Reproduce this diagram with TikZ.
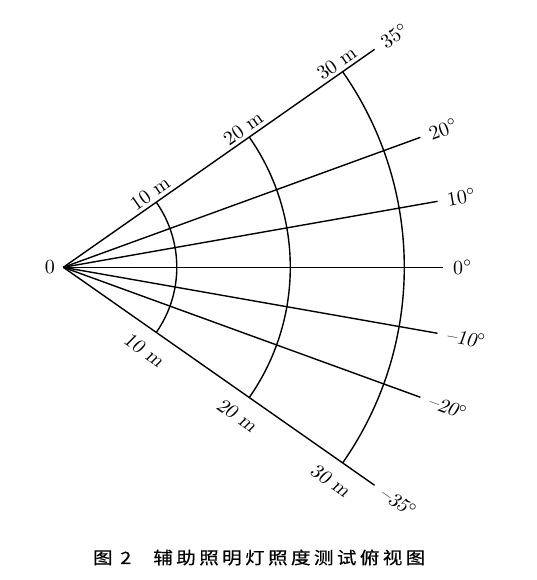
\documentclass[tikz,border=0pt]{standalone}
\usepackage{fontspec}
\newfontfamily\cjkfont[LetterSpace=20,FakeStretch=1.15,FakeBold=0.4]{Noto Sans CJK SC}

\begin{document}
\begin{tikzpicture}[x=0.5pt,y=0.5pt,line width=0.7pt,
  upper/.style={anchor=south,inner sep=1.5pt},
  lower/.style={anchor=north,inner xsep=1pt,inner ysep=7pt,font=\slshape},
  deg/.style={anchor=west,inner xsep=4.5pt,inner ysep=1pt}]
\useasboundingbox (-63.3,-312.7) rectangle (473.7,267.3);
\coordinate (O) at (0,0);
\node[anchor=east,inner sep=3.8pt] (zero) at (O) {0};
\foreach \a in {35,20,10,0,-10,-20,-35}
  \coordinate (e\a) at (\a:380);
\foreach \a in {35,20,10,0,-10,-20,-35}
  \draw (O) -- (e\a);
\foreach \a/\t in {35/{$35^\circ$},20/{$20^\circ$},10/{$10^\circ$},0/{$0^\circ$},
  -10/{\slshape --10$^\circ$},-20/{\slshape --20$^\circ$},-35/{\slshape --35$^\circ$}}
  \node[deg,rotate=\a] (t\a) at (e\a) {\t};
\foreach \r/\n in {113.5/10,227/20,341/30}{
  \draw (-35:\r) arc[start angle=-35,end angle=35,radius=\r];
  \node[upper,rotate=35] (u\n) at (35:\r) {\n~m};
  \node[lower,rotate=-35] (l\n) at (-35:\r) {\n~m};
}
\node (caption) at (195.9,-290.2) {\cjkfont\fontsize{8.5}{10}\selectfont 图 2\hspace{1.3em}辅助照明灯照度测试俯视图};
\end{tikzpicture}
\end{document}
